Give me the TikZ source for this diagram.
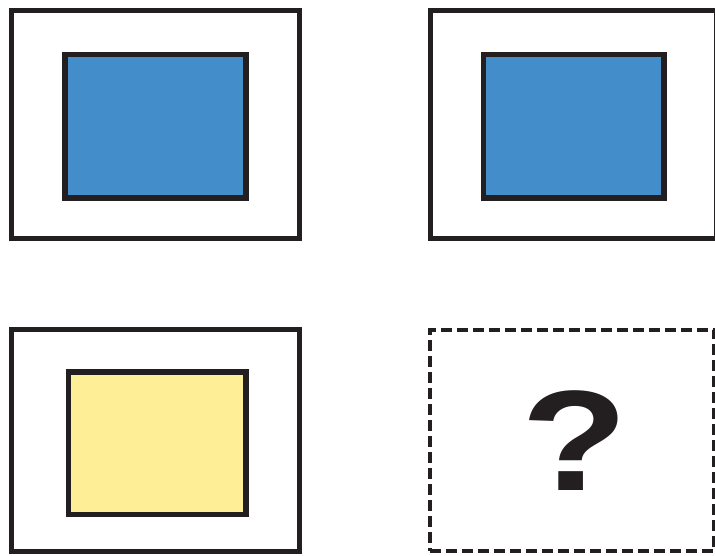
\documentclass[tikz,border=0pt]{standalone}
\usepackage{fontspec}
\setmainfont{Liberation Sans}
\usepackage{xcolor}
\definecolor{panelblue}{RGB}{67,141,202}
\definecolor{panelyellow}{RGB}{254,239,150}
\definecolor{ink}{RGB}{35,31,32}

\begin{document}
\begin{tikzpicture}[x=1pt,y=-1pt,
  frame/.style={draw=ink,line width=5pt,inner sep=0pt},
  tile/.style={draw=ink,line width=5.5pt,inner sep=0pt}]
  \useasboundingbox (0,0) rectangle (715,555);
  % top row
  \node[frame,minimum width=288,minimum height=228] (tlframe) at (155,124) {};
  \node[tile,fill=panelblue,minimum width=181,minimum height=143.5] (tltile) at (155.5,126) {};
  \node[frame,minimum width=286,minimum height=228] (trframe) at (573,124) {};
  \node[tile,fill=panelblue,minimum width=180.5,minimum height=143.5] (trtile) at (573.75,126) {};
  % bottom row
  \node[frame,minimum width=288,minimum height=222] (blframe) at (155.5,440) {};
  \node[tile,fill=panelyellow,minimum width=177.5,minimum height=142.5] (bltile) at (157.25,443.25) {};
  \node[frame,dash pattern=on 11pt off 5pt,line width=4pt,minimum width=284,minimum height=221.5] (brframe) at (572,440.25) {};
  \node[text=ink,font=\fontsize{143}{143}\selectfont\bfseries] (query) at (575,441) {\scalebox{1.22}[1]{?}};
\end{tikzpicture}
\end{document}
